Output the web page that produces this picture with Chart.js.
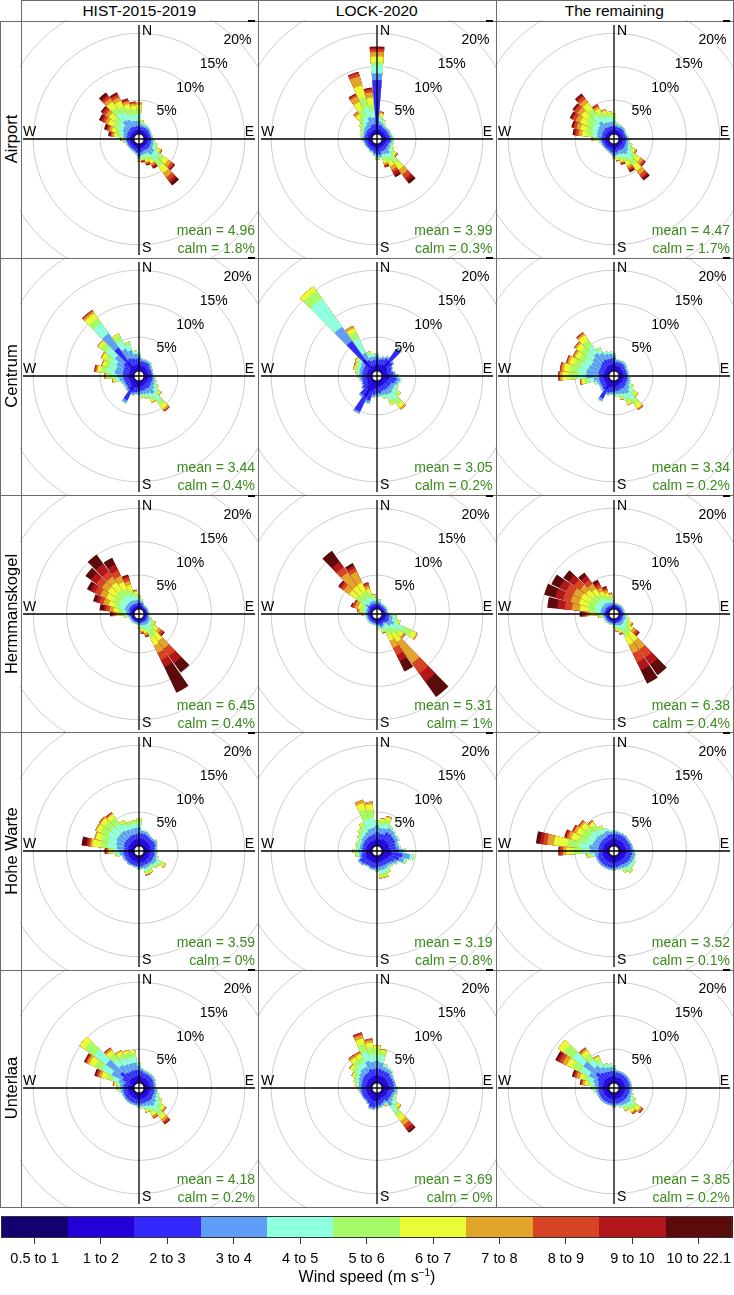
<!DOCTYPE html>
<html>
<head>
<meta charset="utf-8">
<script src="https://cdn.jsdelivr.net/npm/chart.js@4.4.1/dist/chart.umd.min.js"></script>
<style>
  body { margin: 0; background: #fff; font-family: "Liberation Sans", Arial, sans-serif; }
  #fig { position: relative; width: 734px; height: 1295px; overflow: hidden; background: #fff; }
  .box { position: absolute; border: 1px solid #6a6a6a; box-sizing: border-box; pointer-events: none; }
  .txt { position: absolute; white-space: nowrap; color: #000; }
  .stat { position: absolute; white-space: nowrap; color: #3b8a1d; font-size: 14px; line-height: 16px; text-align: right; }
  canvas { position: absolute; }
</style>
</head>
<body>
<div id="fig"></div>
<script>
// ---------------- data ----------------
const periods = ['HIST-2015-2019', 'LOCK-2020', 'The remaining'];
const sites = ['Airport', 'Centrum', 'Hermmanskogel', 'Hohe Warte', 'Unterlaa'];
const means = [[4.96, 3.99, 4.47], [3.44, 3.05, 3.34], [6.45, 5.31, 6.38], [3.59, 3.19, 3.52], [4.18, 3.69, 3.85]];
const calms = [[1.8, 0.3, 1.7], [0.4, 0.2, 0.2], [0.4, 1, 0.4], [0, 0.8, 0.1], [0.2, 0, 0.2]];
const speedLabels = ['0.5 to 1', '1 to 2', '2 to 3', '3 to 4', '4 to 5', '5 to 6', '6 to 7', '7 to 8', '8 to 9', '9 to 10', '10 to 22.1'];
const binColors = ['#14006e', '#2200d8', '#3428fb', '#5f9ef7', '#8effdf', '#a6fb68', '#e9fd36', '#e1a52a', '#d74424', '#b2161b', '#5c0b0b'];
const rings = [5, 10, 15, 20];
const compass = ['N', 'E', 'S', 'W'];
const directions = [0, 10, 20, 30, 40, 50, 60, 70, 80, 90, 100, 110, 120, 130, 140, 150, 160, 170,
  180, 190, 200, 210, 220, 230, 240, 250, 260, 270, 280, 290, 300, 310, 320, 330, 340, 350];

// frequency (%) per speed bin, one entry per direction (0..350 deg)
const airportHist = [
  [.1,.4,.6,.8,1,.8,.6,.4], [.1,.4,.5,.4,.3,.2,.1], [.1,.4,.5,.3,.2,.1], [.1,.4,.5,.3,.2], [.1,.4,.5,.3,.1], [.1,.4,.5,.2,.1],
  [.1,.4,.4,.2,.1], [.1,.4,.4,.2,.1], [.1,.4,.4,.2,.1], [.1,.4,.5,.2,.1], [.1,.4,.5,.3,.2], [.1,.4,.5,.4,.3,.2,.1],
  [.1,.4,.5,.5,.5,.4,.3,.2,.1], [.1,.4,.6,.9,.9,.8,.8,.6,.4,.2,.1], [.1,.4,.6,1,1.1,1.1,1.1,.8,.6,.4,.5], [.1,.4,.5,.6,.6,.5,.5,.3,.2,.2,.2], [.1,.4,.5,.5,.5,.4,.3,.2,.2,.1,.1], [.1,.5,.6,.4,.3,.2,.2,.1,.1,.1,.1],
  [.1,.7,.9,.4,.2,.1,.1,.1], [.1,.5,.6,.2,.1,.1], [.1,.4,.5,.2,.1], [.1,.4,.4,.2,.1], [.1,.4,.4,.2], [.1,.4,.4,.2],
  [.1,.4,.4,.2], [.1,.4,.4,.2,.1], [.1,.4,.5,.2,.1,.1,.1], [.1,.4,.5,.3,.2,.2,.1,.1,.1], [.1,.4,.5,.5,.5,.5,.4,.3,.2,.2,.2], [.1,.4,.5,.6,.6,.6,.6,.4,.3,.2,.3],
  [.1,.4,.6,.8,.8,.8,.8,.5,.4,.3,.3], [.1,.4,.6,.9,.9,.9,.9,.6,.4,.3,.2], [.1,.5,.6,1.4,1.4,1,1,.6,.4,.3,.4], [.1,.5,.6,1.2,1.2,1,.9,.6,.4,.2,.2], [.1,.4,.6,.9,1,.9,.7,.4,.2,.2,.1], [.1,.4,.6,.8,.9,.8,.6,.3,.2,.1]
];
const airportLock = [
  [.4,1.5,6.1,1,1.2,.5,.8,.7,.4,.25,.15], [.1,.5,.7,.5,.5,.4,.3,.2,.1], [.1,.5,.6,.4,.3,.2,.1], [.1,.4,.5,.3,.2,.1], [.1,.4,.5,.3,.1], [.1,.4,.5,.3,.1],
  [.1,.4,.5,.3,.1], [.1,.4,.5,.3,.1], [.1,.5,.5,.3,.2], [.1,.5,.6,.3,.2], [.1,.5,.6,.3,.2], [.1,.4,.5,.3,.2,.1],
  [.1,.4,.5,.4,.3,.2,.1], [.1,.4,.5,.5,.5,.4,.3,.2,.1], [.1,.4,.6,.8,.9,1,1,.9,.7,.5,.5], [.1,.4,.6,.6,.6,.7,.7,.6,.4,.5,.3], [.1,.4,.6,.5,.5,.4,.4,.3,.2,.1,.1], [.1,.6,.8,.4,.2,.1],
  [.1,.6,.8,.4,.2,.1], [.1,.5,.7,.3,.1], [.1,.4,.5,.2,.1], [.1,.4,.5,.2,.1], [.1,.4,.4,.2], [.1,.4,.4,.2],
  [.1,.4,.4,.2], [.1,.4,.4,.2,.1], [.1,.4,.5,.2,.1], [.1,.4,.5,.3,.1,.1], [.1,.4,.5,.3,.2,.1], [.1,.4,.5,.3,.2,.1,.1],
  [.1,.4,.5,.4,.3,.2,.1], [.1,.4,.6,.5,.4,.3,.2], [.1,.4,.6,.6,.7,.7,.6,.4,.1], [.1,.4,.6,.9,1,1.1,1.2,.9,.3,.1,.1], [.1,.5,.8,1.2,1.5,1.6,1.8,1.4,.5,.2], [.1,.5,.8,1,1,1,1,.8,.4,.2,.1]
];
const airportRest = [
  [.1,.4,.6,.7,.6,.4,.2], [.1,.4,.5,.4,.2,.1], [.1,.4,.5,.3,.2], [.1,.4,.5,.3,.1], [.1,.4,.5,.3,.1], [.1,.4,.5,.2,.1],
  [.1,.4,.4,.2,.1], [.1,.4,.4,.2,.1], [.1,.4,.5,.2,.1], [.1,.4,.5,.3,.1], [.1,.4,.5,.3,.2], [.1,.4,.5,.4,.3,.2,.1],
  [.1,.4,.5,.5,.5,.4,.3,.2,.1], [.1,.4,.6,.7,.8,.7,.7,.5,.3,.1,.1], [.1,.4,.6,.9,1,1,1,.7,.5,.3,.3], [.1,.4,.5,.7,.7,.6,.6,.4,.3,.2,.2], [.1,.4,.5,.5,.5,.4,.3,.2,.1,.1,.1], [.1,.5,.6,.4,.3,.2,.2,.1,.1],
  [.1,.7,.8,.3,.1,.1], [.1,.5,.6,.2,.1], [.1,.4,.5,.2,.1], [.1,.4,.4,.2,.1], [.1,.4,.4,.2], [.1,.4,.4,.2],
  [.1,.4,.4,.2], [.1,.4,.4,.2,.1], [.1,.4,.5,.2,.1,.1], [.1,.4,.5,.4,.4,.3,.2,.1,.1], [.1,.4,.5,.7,.7,.8,.8,.5,.4,.3,.2], [.1,.4,.5,.8,.8,.9,.9,.6,.4,.2,.2],
  [.1,.4,.6,.8,.9,1,1,.7,.5,.3,.2], [.1,.4,.6,.9,1,1.1,1.1,.7,.5,.2,.2], [.1,.5,.6,1.2,1.2,1.1,1.1,.7,.5,.3,.2], [.1,.4,.6,.8,.9,.8,.6,.4,.2,.1], [.1,.4,.6,.7,.8,.6,.4,.2], [.1,.4,.6,.7,.7,.5,.3]
];
const centrumHist = [
  [.2,.8,.9,.4,.2], [.1,.6,.7,.3,.1], [.1,.6,.7,.3,.1], [.1,.6,.7,.3,.1], [.1,.6,.7,.3,.1], [.1,.5,.6,.3,.1],
  [.1,.5,.5,.2,.1], [.1,.5,.5,.2], [.1,.5,.5,.2], [.1,.5,.5,.2,.1], [.1,.5,.6,.3,.1], [.1,.5,.6,.4,.2,.1],
  [.1,.5,.6,.5,.4,.2,.1], [.1,.5,.7,.7,.6,.4,.2,.1], [.1,.5,.8,1.1,1.2,.9,.6,.3,.1,.1], [.1,.5,.7,.8,.7,.5,.2,.1], [.1,.6,.7,.6,.4,.2,.1], [.1,.6,.7,.5,.3,.2,.1],
  [.1,.7,.8,.3,.1], [.1,.7,.8,.3,.1], [.1,.8,.9,.3,.1], [.2,1.4,1.6,.4,.1], [.1,.7,.8,.3,.1], [.1,.6,.7,.3,.1],
  [.1,.6,.7,.3,.1], [.1,.6,.7,.4,.2], [.1,.6,.8,.6,.5,.3,.2,.1], [.1,.6,.8,.9,.8,.6,.3,.1,.1], [.1,.6,.9,1.2,1.2,.9,.5,.2,.2,.1], [.1,.6,.9,1.1,1,.7,.4,.2],
  [.1,.6,1,1.2,1.1,.8,.5,.2], [.1,.7,1.2,1.6,1.6,1,.5,.1], [.2,1.6,2.6,2.6,1.9,.9,.9,.35,.15,.1], [.1,.8,1.2,1.6,1.4,.8,.3], [.1,.7,1.1,1.3,.9,.4], [.1,.7,.9,.8,.4,.1]
];
const centrumLock = [
  [.2,.8,.9,.4,.2], [.1,.7,.8,.3,.1], [.1,.8,.9,.3,.1], [.1,.9,1.1,.3,.1], [.2,1.7,2.2,.3,.1], [.1,.9,1,.3],
  [.1,.7,.8,.2], [.1,.6,.7,.2], [.1,.7,.8,.3], [.1,.8,1,.4,.1], [.1,.9,1.1,.5,.2], [.1,.8,1,.5,.2],
  [.1,.6,.8,.6,.4,.2], [.1,.6,.8,.7,.7,.4,.2], [.1,.6,.8,.9,1.2,.9,.5,.3], [.1,.6,.8,.8,.9,.6,.2], [.1,.6,.8,.6,.4,.2], [.1,.7,.9,.4,.2],
  [.1,.8,.9,.3,.1], [.1,.9,1,.3,.1], [.2,1.3,1.5,.4,.1], [.3,2.3,2.5,.3], [.2,1.2,1.3,.3], [.1,.8,.9,.2],
  [.1,.7,.7,.2], [.1,.6,.7,.2], [.1,.6,.7,.3,.1], [.1,.6,.7,.4,.2,.1], [.1,.6,.7,.4,.3,.2,.1], [.1,.6,.7,.5,.4,.3,.2,.1],
  [.1,.6,.7,.5,.4,.3,.2,.1,.1], [.1,.6,.8,.6,.5,.3,.2,.1], [.2,2,3.4,2.6,5.2,1.4,.8], [.1,.7,1,1.2,2.5,1,.6,.4], [.1,.6,.8,.6,.5,.3,.1], [.1,.7,.8,.5,.3,.1]
];
const centrumRest = [
  [.2,.8,.9,.4,.2], [.1,.6,.6,.3,.1], [.1,.6,.6,.3,.1], [.1,.6,.6,.3,.1], [.1,.6,.6,.3,.1], [.1,.5,.6,.3,.1],
  [.1,.5,.5,.2,.1], [.1,.5,.5,.2,.1], [.1,.5,.5,.2,.1], [.1,.5,.5,.2,.1], [.1,.5,.6,.3,.1], [.1,.5,.6,.4,.2],
  [.1,.5,.6,.5,.4,.2,.1], [.1,.5,.7,.7,.7,.5,.3,.1], [.1,.5,.8,1,1.2,.9,.6,.2,.1], [.1,.5,.7,.9,.8,.6,.3,.1], [.1,.6,.7,.6,.4,.3,.1,.1], [.1,.6,.7,.5,.3,.1],
  [.1,.7,.8,.3,.1], [.1,.7,.8,.3,.1], [.1,.8,.9,.3,.1], [.2,1.2,1.5,.4,.1], [.1,.7,.8,.3,.1], [.1,.6,.7,.3,.1],
  [.1,.6,.7,.3,.1], [.1,.6,.7,.4,.3,.1], [.1,.6,.7,.8,.8,.6,.4,.2,.1], [.1,.6,.7,1.9,1.3,1.3,1,.35,.2,.05], [.1,.6,.8,1.8,1.3,1.2,.9,.35,.2,.05], [.1,.6,.8,1.6,1.2,1,.8,.3,.15,.05],
  [.1,.6,.8,1.4,1.1,.9,.7,.3,.1], [.1,.6,.9,1.5,1.2,1,.8,.3,.1], [.1,.7,1,1.6,1.3,1.1,.9,.3,.1,.1], [.1,.8,1,1.1,.6,.3], [.1,.8,.9,.8,.4], [.1,.8,.9,.7,.3]
];
const hermannHist = [
  [.1,.3,.4,.5,.4,.3], [.1,.3,.4,.3,.2,.1], [.1,.3,.3,.2,.1], [.05,.2,.2,.15,.1], [.05,.2,.2,.15,.1], [.05,.2,.2,.15,.1],
  [.05,.2,.2,.15,.1], [.05,.2,.2,.15,.1], [.05,.2,.2,.15,.1], [.05,.2,.2,.15,.1], [.05,.2,.2,.2,.1,.05], [.05,.2,.3,.3,.2,.1],
  [.05,.2,.3,.4,.4,.3,.2,.1], [.1,.2,.3,.4,.5,.6,.6,.5,.4,.2,.1], [.1,.2,.3,.5,.8,1,1.2,1.4,1.4,1.3,1.7], [.1,.2,.2,.5,1,1.2,1.2,1.2,1.2,1.16,4.24], [.05,.2,.3,.4,.4,.4,.4,.3,.2,.1,.05], [.05,.2,.3,.3,.3,.3,.3,.2,.1,.1],
  [.05,.2,.3,.3,.2,.2,.1], [.05,.2,.2,.2,.1], [.05,.2,.2,.15,.1], [.05,.2,.2,.15,.1], [.05,.2,.2,.15,.1], [.05,.2,.2,.15,.1],
  [.05,.2,.2,.15,.1], [.05,.2,.2,.15,.1], [.05,.2,.3,.3,.3,.2,.1], [.05,.2,.3,.4,.5,.5,.5,.4,.3,.2,.15], [.1,.2,.3,.5,.6,.6,.7,.6,.5,.4,.6], [.1,.3,.4,.6,.8,.8,.9,.8,.6,.5,.5],
  [.1,.3,.4,.6,1,1,1.2,1,.9,.7,.6], [.1,.3,.4,.6,1.1,1.1,1.3,1.1,1,1,1], [.1,.3,.4,.6,1.2,1,1.4,1,1,1.4,1.7], [.1,.3,.4,.6,1,.9,1.2,1,.9,1,1.1], [.1,.3,.4,.5,.8,.8,.8,.6,.5,.3,.2], [.1,.3,.4,.5,.5,.4,.3,.2,.1]
];
const hermannLock = [
  [.05,.2,.3,.3,.2,.1], [.05,.3,.4,.3,.2,.1], [.05,.3,.3,.2,.1], [.05,.2,.3,.2,.1], [.05,.2,.3,.2,.1], [.05,.2,.3,.2,.1],
  [.05,.2,.3,.2,.1], [.05,.2,.3,.2,.1], [.05,.2,.3,.2,.1], [.05,.3,.4,.3,.2], [.1,.4,.5,.5,.4,.2], [.1,.4,.5,.6,.6,.4,.2],
  [.1,.4,.6,.9,1.6,1.4,.7,.2], [.1,.4,.5,.7,1,.8,.5,.3,.1], [.1,.3,.3,.3,.95,.95,1.4,3.9,1.9,1.5,2.8], [.1,.3,.4,.4,.6,.8,1,1.2,1.2,1,1.7], [.1,.4,.5,.4,.3,.2,.1,.1,.1], [.05,.3,.4,.3,.2,.1,.1],
  [.05,.3,.3,.2,.1], [.05,.2,.3,.2,.1], [.05,.2,.3,.2,.1], [.05,.2,.3,.2,.1], [.05,.2,.3,.2,.1], [.05,.2,.3,.2,.1],
  [.05,.2,.3,.2,.1], [.05,.2,.3,.2,.1], [.05,.2,.3,.2,.1,.1], [.05,.2,.3,.3,.2,.2,.1,.1], [.05,.2,.3,.3,.3,.3,.3,.3,.1], [.05,.2,.3,.4,.4,.4,.4,.5,.3,.2,.1],
  [.05,.2,.3,.3,.4,.4,.5,.5,.2,.1], [.1,.3,.4,.5,.8,1,1.2,1,.5,.3,.2], [.1,.3,.3,.3,.8,1,1.5,2.5,1,1,2], [.1,.3,.4,.4,.8,1,1.4,1.8,.6,.4,.4], [.1,.3,.4,.4,.6,.7,.6,.5,.3,.2], [.05,.3,.4,.4,.4,.3,.2,.1]
];
const hermannRest = [
  [.05,.2,.3,.3,.2,.1], [.05,.2,.25,.2,.1], [.05,.2,.25,.2,.1], [.05,.2,.25,.2,.1], [.05,.2,.25,.2,.1], [.05,.2,.25,.2,.1],
  [.05,.2,.25,.2,.1], [.05,.2,.25,.2,.1], [.05,.2,.25,.2,.1], [.05,.2,.3,.2,.1], [.05,.2,.3,.3,.2,.1], [.05,.2,.3,.4,.3,.2,.1],
  [.05,.2,.3,.4,.4,.4,.3,.2,.1], [.1,.2,.3,.4,.5,.6,.6,.5,.4,.2,.1], [.1,.2,.3,.5,.8,1,1.3,1.5,1.5,1.3,1.9], [.1,.2,.3,.5,.9,1,1.3,1.4,1.5,1.3,2.2], [.05,.2,.3,.4,.4,.4,.3,.2,.1,.05], [.05,.2,.3,.3,.3,.3,.2,.1,.05],
  [.05,.2,.3,.3,.2,.1], [.05,.2,.25,.2,.1], [.05,.2,.25,.2,.1], [.05,.2,.25,.2,.1], [.05,.2,.25,.2,.1], [.05,.2,.25,.2,.1],
  [.05,.2,.25,.2,.1], [.05,.2,.25,.2,.1], [.05,.2,.3,.3,.3,.2,.1,.1], [.05,.2,.3,.4,.5,.6,.6,.5,.4,.4,.35], [.1,.2,.3,.6,.9,1,1.2,1.2,1.1,1.1,1.5], [.1,.2,.3,.6,1,1.1,1.3,1.3,1.2,1.2,1.7],
  [.1,.2,.3,.6,1,1.1,1.3,1.3,1.2,1.1,1.35], [.1,.2,.3,.6,.9,1,1.2,1.1,1.1,1,1], [.1,.2,.3,.6,.8,.8,1,.9,.8,.7,.6], [.05,.2,.3,.5,.6,.6,.7,.6,.5,.4,.4], [.05,.2,.3,.4,.5,.5,.5,.4,.3,.2,.15], [.05,.2,.3,.4,.4,.4,.3,.2,.1]
];
const hoheHist = [
  [.2,.8,.9,.8,.8,.5,.1], [.2,.8,.8,.4,.1], [.2,.8,.8,.4,.1], [.2,.7,.8,.3,.1], [.2,.7,.7,.3], [.2,.7,.7,.3],
  [.2,.7,.8,.4,.1], [.2,.7,.8,.3], [.2,.6,.7,.3], [.2,.6,.7,.3,.1], [.2,.6,.7,.3,.1], [.2,.6,.7,.4,.2,.1],
  [.2,.6,.7,.6,.6,.5,.3,.1], [.2,.6,.7,.5,.4,.3,.1], [.2,.6,.6,.4,.3,.2,.1], [.2,.6,.6,.5,.4,.3,.2,.1], [.2,.6,.6,.5,.4,.3,.2,.1,.1], [.2,.6,.7,.3,.1],
  [.2,.7,.7,.3,.1], [.2,.6,.6,.2,.1], [.2,.6,.6,.2], [.2,.6,.6,.2], [.2,.6,.6,.3], [.2,.6,.6,.2],
  [.2,.6,.6,.3], [.2,.6,.6,.3,.1], [.2,.6,.7,.5,.4,.2,.1], [.2,.6,.7,.7,.7,.5,.3,.2,.2,.2], [.2,.6,.6,1.1,1.4,1.1,1.2,.3,.3,.3,.7], [.2,.6,.7,1.2,1.3,1.1,.8,.2],
  [.2,.6,.8,1.3,1.4,1.2,.7,.2], [.2,.6,.8,1.3,1.4,1.2,.7,.2,.1], [.2,.6,.8,1.3,1.3,1.1,.6,.2,.1,.1], [.2,.7,.8,1,.9,.5,.2], [.2,.7,.8,.9,.7,.4,.1], [.2,.7,.8,.9,.7,.4,.1]
];
const hoheLock = [
  [.2,.8,1,1,.6,.2], [.2,.7,.9,.8,.6,.5,.3,.1], [.2,.7,.9,.9,.7,.6,.4,.2], [.2,.9,1.2,.7,.3,.1], [.2,.9,1.2,.6,.2], [.2,.9,1.1,.5,.2],
  [.2,.9,1.1,.5,.2], [.2,.8,1,.4,.1], [.2,.8,1,.5,.2], [.2,1,1.2,.7,.3,.1], [.2,1.2,1.6,1.1,.5,.1], [.2,1,1.4,.8,.3,.1],
  [.2,.8,1,.5,.2], [.2,.7,.8,.4,.2], [.2,.6,.7,.4,.2,.1], [.2,.6,.7,.5,.4,.3,.1], [.2,.6,.7,.6,.5,.4,.2,.1], [.2,.6,.7,.6,.5,.4,.2,.1],
  [.2,.7,.8,.4,.1], [.2,.7,.8,.3], [.2,.7,.8,.3], [.2,.7,.7,.2], [.2,.7,.8,.2], [.2,.8,.9,.3],
  [.2,.9,.9,.3], [.2,.7,.7,.3,.1], [.2,.6,.6,.4,.3,.2,.1], [.2,.6,.7,.5,.4,.3,.1], [.2,.6,.6,.4,.3,.2], [.2,.6,.6,.4,.4,.3],
  [.2,.6,.6,.4,.3,.2], [.2,.6,.7,.5,.4,.3,.1], [.2,.6,.7,.6,.6,.4,.2], [.2,.6,.8,.7,.8,.6,.2], [.2,.5,.9,1,1.5,1.5,1,.5], [.2,.6,.9,1,1.4,1.3,.8,.4]
];
const hoheRest = [
  [.2,.7,.8,.4,.2], [.2,.7,.8,.4,.1], [.2,.7,.8,.3], [.2,.7,.8,.3], [.2,.7,.8,.3], [.2,.7,.7,.3],
  [.2,.7,.7,.3], [.2,.7,.8,.3], [.2,.7,.8,.3], [.2,.7,.9,.4,.1], [.2,.8,.9,.4,.1], [.2,.7,.9,.5,.2],
  [.2,.7,.9,.5,.3,.1], [.2,.7,.8,.5,.4,.2], [.2,.6,.8,.6,.5,.4,.1], [.2,.6,.7,.5,.4,.3,.1], [.2,.6,.7,.4,.2], [.2,.7,.7,.3,.1],
  [.2,.7,.8,.3,.1], [.2,.7,.8,.3], [.2,.7,.8,.3], [.2,.7,.8,.3], [.2,.7,.8,.3], [.2,.7,.8,.3],
  [.2,.7,.8,.3], [.2,.7,.8,.3], [.2,.6,.7,.6,.5,.4,.2,.1], [.2,.6,.7,1.2,1.2,1.3,1.1,.5,.4,.2,.1], [.2,.6,.7,1.4,1.5,1.8,2,1,.6,.5,.6], [.2,.6,.7,1,1.1,1.2,1,.5,.3,.2,.1],
  [.2,.6,.7,.9,1,1.1,.9,.4,.2,.1], [.2,.6,.7,.9,1,1,.8,.3,.2], [.2,.6,.7,.8,.9,.8,.5,.2,.1], [.2,.6,.7,.7,.6,.4,.2], [.2,.7,.8,.6,.4], [.2,.7,.8,.4,.2]
];
const unterHist = [
  [.2,.8,.9,.6,.4,.1], [.2,.7,.8,.3,.1], [.2,.6,.7,.3,.1], [.2,.6,.7,.3,.1], [.2,.6,.7,.3,.1], [.2,.6,.7,.3,.1],
  [.2,.6,.7,.3,.1], [.2,.6,.6,.3], [.2,.6,.6,.3], [.2,.6,.6,.3], [.2,.6,.7,.4,.1], [.2,.6,.7,.4,.3,.1],
  [.2,.6,.7,.5,.5,.3,.2], [.2,.6,.8,.7,.7,.5,.4,.2,.1], [.2,.6,.8,.9,1,.8,.6,.4,.3,.15,.1], [.2,.6,.7,.7,.6,.5,.4,.3,.2], [.2,.6,.7,.5,.4,.3,.2,.1], [.2,.6,.7,.4,.2,.1],
  [.2,.7,.8,.3,.1], [.2,.6,.7,.3], [.2,.6,.7,.3], [.2,.6,.7,.3], [.2,.6,.7,.3], [.2,.6,.7,.3],
  [.2,.6,.7,.3], [.2,.6,.7,.3], [.2,.6,.7,.4,.2,.1], [.2,.6,.7,.4,.3,.2,.1,.1], [.2,.6,.7,.5,.4,.3,.2,.1,.1], [.1,.4,.8,1,1,.9,.8,.4,.3,.2,.2],
  [.1,.6,1.2,1.8,1.6,1.2,.9,.4,.2,.2,.1], [.1,.8,1.7,2.6,2.2,1.8,.9], [.2,.7,1.1,1.4,1.2,.9,.6,.3,.1,.1], [.2,.7,1,1.2,1,.7,.4,.2], [.2,.7,1,1.1,.9,.7,.4,.1], [.2,.7,1,1.1,.9,.6,.3]
];
const unterLock = [
  [.2,.8,1.1,1.1,1,.8,.5,.1], [.2,.8,1,1,.9,.7,.3,.1], [.2,.8,.9,.6,.3,.1], [.2,.8,.9,.5,.2], [.2,.8,.9,.5,.2], [.2,.7,.8,.4,.1],
  [.2,.7,.8,.3], [.2,.7,.8,.3], [.2,.7,.8,.3], [.2,.7,.8,.4,.1], [.2,.7,.8,.4,.2], [.2,.6,.7,.4,.2,.1],
  [.2,.6,.7,.4,.3,.2], [.2,.6,.7,.6,.6,.4,.3,.2], [.2,.6,.8,.9,1,.9,.8,.8,.6,.5,.3], [.2,.5,.6,.4,.2,.1,.1,.1], [.2,.6,.7,.4,.1], [.2,.7,.8,.3,.1],
  [.2,.8,.9,.3,.1], [.2,.9,1,.3], [.2,.9,1,.3], [.2,.7,.8,.2], [.2,.6,.7,.2], [.2,.6,.7,.2],
  [.2,.6,.7,.2], [.2,.6,.7,.2], [.2,.6,.7,.3,.1], [.2,.6,.7,.3,.2,.1], [.2,.6,.7,.4,.3,.2,.1], [.2,.6,.7,.5,.4,.3,.1],
  [.2,.6,.8,.6,.5,.4,.2,.1], [.2,.7,.8,.7,.7,.6,.4,.2], [.2,.7,.9,.9,.9,.7,.5,.3,.15], [.2,.7,.9,.9,.9,.7,.5,.3,.1], [.2,.8,1.1,1.3,1.4,1.2,.9,.5,.3,.1], [.2,.8,1,1.1,1.2,1,.7,.4,.2]
];
const unterRest = [
  [.2,.7,.8,.5,.3], [.2,.6,.7,.3,.1], [.2,.6,.7,.3], [.2,.6,.7,.3], [.2,.6,.7,.3], [.2,.6,.7,.3],
  [.2,.6,.7,.3], [.2,.6,.7,.3], [.2,.6,.7,.3], [.2,.6,.7,.3], [.2,.6,.7,.3,.1], [.2,.6,.7,.4,.2,.1],
  [.2,.6,.7,.5,.4,.3,.1], [.2,.6,.7,.7,.7,.6,.5,.3,.2,.05], [.2,.6,.7,.6,.6,.5,.4,.2,.15,.05], [.2,.6,.7,.5,.4,.3,.2,.1], [.2,.6,.7,.4,.2,.1], [.2,.6,.7,.3,.1],
  [.2,.7,.8,.3,.1], [.2,.6,.7,.3], [.2,.6,.7,.3], [.2,.6,.7,.3], [.2,.6,.7,.3], [.2,.6,.7,.3],
  [.2,.6,.7,.3], [.2,.6,.7,.3], [.2,.6,.7,.4,.2,.1], [.2,.6,.7,.4,.3,.2,.1], [.2,.6,.7,.6,.6,.5,.4,.3,.2,.1,.1], [.2,.6,.8,.8,.8,.7,.6,.5,.3,.2,.2],
  [.2,.7,1,1.4,1.4,1.3,1,.7,.5,.4,.3], [.2,.8,1.5,2.3,2,1.6,1], [.2,.7,1.1,1.3,1.1,1,.7,.3,.2], [.2,.7,.9,.9,.8,.6,.3,.2], [.2,.7,.8,.7,.4,.2], [.2,.7,.8,.6,.4,.1]
];

const roses = [
  [airportHist, airportLock, airportRest],
  [centrumHist, centrumLock, centrumRest],
  [hermannHist, hermannLock, hermannRest],
  [hoheHist, hoheLock, hoheRest],
  [unterHist, unterLock, unterRest]
];

// ---------------- layout ----------------
const X0 = 20.5, Y0 = 20.5, COL_W = 237.5, ROW_H = 237.3;
const R_MIN = -0.84, R_MAX = 20.12;   // value 0 sits on the calm circle
const GAP = 0.8;                      // degrees of white between paddles
const fig = document.getElementById('fig');

function addDiv(cls, css, html) {
  const d = document.createElement('div');
  d.className = cls;
  Object.assign(d.style, css);
  if (html !== undefined) d.innerHTML = html;
  fig.appendChild(d);
  return d;
}

// stacked paddles: dataset b holds the cumulative frequency up to bin b;
// the lower bins are drawn last, so they sit on top of the longer ones
function buildDatasets(rose) {
  return binColors.map((col, b) => {
    const data = [];
    rose.forEach(bins => {
      let cum = 0;
      for (let k = 0; k <= b; k++) cum += bins[k] || 0;
      data.push(+cum.toFixed(3), R_MIN);
    });
    return {
      label: speedLabels[b],
      data: data,
      backgroundColor: col,
      borderWidth: 0,
      angle: c => (c.dataIndex % 2 ? GAP : 10 - GAP)
    };
  });
}

const roseDecor = {
  id: 'roseDecor',
  afterDatasetsDraw(chart) {
    const s = chart.scales.r, ctx = chart.ctx;
    const cx = s.xCenter, cy = s.yCenter;
    const hole = s.getDistanceFromCenterForValue(0);
    ctx.save();
    ctx.fillStyle = '#fff';
    ctx.beginPath(); ctx.arc(cx, cy, hole - 0.6, 0, Math.PI * 2); ctx.fill();
    ctx.strokeStyle = '#222'; ctx.lineWidth = 1;
    ctx.beginPath(); ctx.arc(cx, cy, hole - 0.6, 0, Math.PI * 2); ctx.stroke();
    ctx.strokeStyle = '#000'; ctx.lineWidth = 1.3;
    ctx.beginPath();
    ctx.moveTo(cx, cy - 114); ctx.lineTo(cx, cy + 116);
    ctx.moveTo(cx - 116, cy); ctx.lineTo(cx + 116, cy);
    ctx.stroke();
    ctx.fillStyle = '#000';
    ctx.font = '14px "Liberation Sans", Arial, sans-serif';
    ctx.textAlign = 'center'; ctx.textBaseline = 'middle';
    const a = Math.PI / 4;
    rings.forEach(v => {
      const d = s.getDistanceFromCenterForValue(v);
      ctx.fillText(v + '%', cx + d * Math.sin(a), cy - d * Math.cos(a));
    });
    ctx.font = '14px "Liberation Sans", Arial, sans-serif';
    ctx.textAlign = 'left';
    ctx.fillText(compass[0], cx + 3, cy - 108);
    ctx.fillText(compass[2], cx + 3, cy + 109);
    ctx.fillText(compass[3], cx - 116, cy - 7);
    ctx.textAlign = 'right';
    ctx.fillText(compass[1], cx + 115, cy - 7);
    ctx.restore();
  }
};

const slotLabels = [];
directions.forEach(d => { slotLabels.push(d + '°', ''); });

// headers
periods.forEach((p, c) => {
  const left = X0 + c * COL_W;
  addDiv('box', { left: left + 'px', top: '0px', width: (COL_W + 1) + 'px', height: (Y0 + 1) + 'px' });
  addDiv('txt', { left: left + 'px', top: '0px', width: COL_W + 'px', height: Y0 + 'px', lineHeight: '21px',
    fontSize: '15.5px', textAlign: 'center' }, p);
});

sites.forEach((site, r) => {
  const top = Y0 + r * ROW_H;
  addDiv('box', { left: '0px', top: top + 'px', width: (X0 + 1) + 'px', height: (ROW_H + 1) + 'px' });
  addDiv('txt', { left: (10.5 - 80) + 'px', top: (top + ROW_H / 2 - 10) + 'px', width: '160px', height: '20px',
    lineHeight: '20px', fontSize: '16.5px', textAlign: 'center', transform: 'rotate(-90deg)' }, site);

  periods.forEach((p, c) => {
    const left = X0 + c * COL_W;
    const cx = Math.round(left + COL_W / 2), cy = Math.round(top + ROW_H / 2);
    const cv = document.createElement('canvas');
    cv.width = 280; cv.height = 280;
    const cl = cx - 140, ct = cy - 140;
    cv.style.left = cl + 'px';
    cv.style.top = ct + 'px';
    cv.style.width = '280px'; cv.style.height = '280px';
    const it = top - ct, il = left - cl;
    cv.style.clipPath = `inset(${it}px ${280 - (il + COL_W)}px ${280 - (it + ROW_H)}px ${il}px)`;
    fig.appendChild(cv);

    new Chart(cv, {
      type: 'polarArea',
      data: { labels: slotLabels, datasets: buildDatasets(roses[r][c]) },
      options: {
        responsive: false,
        animation: false,
        devicePixelRatio: 1,
        layout: { padding: 0 },
        plugins: { legend: { display: false }, tooltip: { enabled: false } },
        scales: {
          r: {
            min: R_MIN,
            max: R_MAX,
            startAngle: -(10 - GAP) / 2,
            ticks: { display: false },
            grid: { color: '#cdcdcd', lineWidth: 1 },
            angleLines: { display: false },
            pointLabels: { display: false },
            afterBuildTicks: axis => { axis.ticks = rings.map(v => ({ value: v })); }
          }
        }
      },
      plugins: [roseDecor]
    });

    addDiv('box', { left: left + 'px', top: top + 'px', width: (COL_W + 1) + 'px', height: (ROW_H + 1) + 'px' });
    addDiv('box', { left: (left + COL_W - 10) + 'px', top: (top - 0.5) + 'px', width: '7px', height: '2px',
      border: 'none', background: '#000' });
    addDiv('stat', { left: (left + COL_W - 163) + 'px', top: (cy + 83) + 'px', width: '160px' },
      'mean = ' + means[r][c].toFixed(2));
    addDiv('stat', { left: (left + COL_W - 163) + 'px', top: (cy + 101) + 'px', width: '160px' },
      'calm = ' + calms[r][c] + '%');
  });
});

// colour key
const KEY_L = 1.3, KEY_T = 1216, KEY_W = 730.7, KEY_H = 22;
const cellW = KEY_W / binColors.length;
binColors.forEach((col, i) => {
  const l = KEY_L + i * cellW;
  addDiv('txt', { left: l + 'px', top: KEY_T + 'px', width: (cellW + 0.6) + 'px', height: KEY_H + 'px', background: col });
  addDiv('txt', { left: (l + cellW / 2 - 0.5) + 'px', top: (KEY_T + KEY_H) + 'px', width: '1px', height: '6px', background: '#333' });
  addDiv('txt', { left: (l + cellW / 2 - 40) + 'px', top: (KEY_T + KEY_H + 12) + 'px', width: '80px', lineHeight: '16px',
    fontSize: '14.5px', textAlign: 'center' }, speedLabels[i]);
});
addDiv('box', { left: KEY_L + 'px', top: KEY_T + 'px', width: KEY_W + 'px', height: KEY_H + 'px', borderColor: '#333' });
addDiv('txt', { left: '217px', top: '1267px', width: '300px', lineHeight: '20px', fontSize: '16px', textAlign: 'center' },
  'Wind speed (m s<sup style="font-size:10px;vertical-align:6px;line-height:0">\u22121</sup>)');
</script>
</body>
</html>
